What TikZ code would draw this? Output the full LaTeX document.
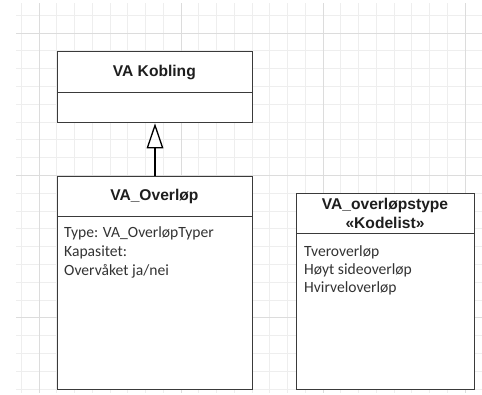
\documentclass[tikz,border=0pt]{standalone}
\usepackage{fontspec}
\setmainfont{Carlito}
\newfontfamily\hdfont{Liberation Sans}
\usetikzlibrary{arrows.meta}
\definecolor{minorgrid}{HTML}{EEEEEE}
\definecolor{majorgrid}{HTML}{DCDCDC}
\definecolor{boxline}{HTML}{3A3A3A}
\definecolor{hdtext}{HTML}{1E1E1E}
\definecolor{bodytext}{HTML}{333333}
\tikzset{
  classpart/.style={draw=boxline, line width=1.3pt, fill=white, rectangle, inner sep=0pt, anchor=north west},
  hdlabel/.style={font=\hdfont\bfseries\fontsize{15.6}{18}\selectfont, text=hdtext, anchor=base, inner sep=0pt},
  bodylabel/.style={font=\fontsize{15.6}{19}\selectfont, text=bodytext, anchor=base west, inner sep=0pt},
  genarrow/.style={draw=black, line width=1.3pt, -{Triangle[open, length=25pt, width=16.6pt, line width=1.3pt]}}
}
\begin{document}
\begin{tikzpicture}[x=1pt, y=-1pt]
\useasboundingbox (0,0) rectangle (482,394);
\fill[white] (0,0) rectangle (482,394);
% grid
\foreach \k in {0,...,25} {
  \draw[minorgrid, line width=0.8pt] ({21.25+17.75*\k},3) -- ({21.25+17.75*\k},393);
}
\foreach \k in {0,...,21} {
  \draw[minorgrid, line width=0.8pt] (16,{15.2+17.8*\k}) -- (482,{15.2+17.8*\k});
}
\foreach \k in {1,9,17,25} {
  \draw[majorgrid, line width=0.9pt] ({21.25+17.75*\k},3) -- ({21.25+17.75*\k},393);
}
\foreach \k in {1,9,17} {
  \draw[majorgrid, line width=0.9pt] (16,{15.2+17.8*\k}) -- (482,{15.2+17.8*\k});
}
% VA Kobling
\node[classpart, minimum width=195.3pt, minimum height=40.7pt] (kobh) at (56.7,51) {};
\node[classpart, minimum width=195.3pt, minimum height=30.3pt] (kobb) at (56.7,91.7) {};
\node[hdlabel] (kobt) at (154.35,76.6) {VA Kobling};
% VA_Overlop
\node[classpart, minimum width=195.3pt, minimum height=39.8pt] (ovh) at (56.7,175.7) {};
\node[classpart, minimum width=195.3pt, minimum height=173.5pt] (ovb) at (56.7,215.5) {};
\node[hdlabel] (ovt) at (154.35,200.6) {VA\_Overløp};
\node[bodylabel] (ov1) at (64,237.7) {Type: VA\_OverløpTyper};
\node[bodylabel] (ov2) at (64,256.4) {Kapasitet:};
\node[bodylabel] (ov3) at (64,275.1) {Overvåket ja/nei};
% VA_overlopstype
\node[classpart, minimum width=178pt, minimum height=39.7pt] (tyh) at (296,193) {};
\node[classpart, minimum width=178pt, minimum height=156.3pt] (tyb) at (296,232.7) {};
\node[hdlabel] (tyt1) at (385,209.3) {VA\_overløpstype};
\node[hdlabel] (tyt2) at (385,228.8) {«Kodelist»};
\node[bodylabel] (ty1) at (304,256) {Tveroverløp};
\node[bodylabel] (ty2) at (304,274.3) {Høyt sideoverløp};
\node[bodylabel] (ty3) at (304,292.6) {Hvirveloverløp};
% generalization
\draw[genarrow] (ovh.north) -- (kobb.south);
\end{tikzpicture}
\end{document}
